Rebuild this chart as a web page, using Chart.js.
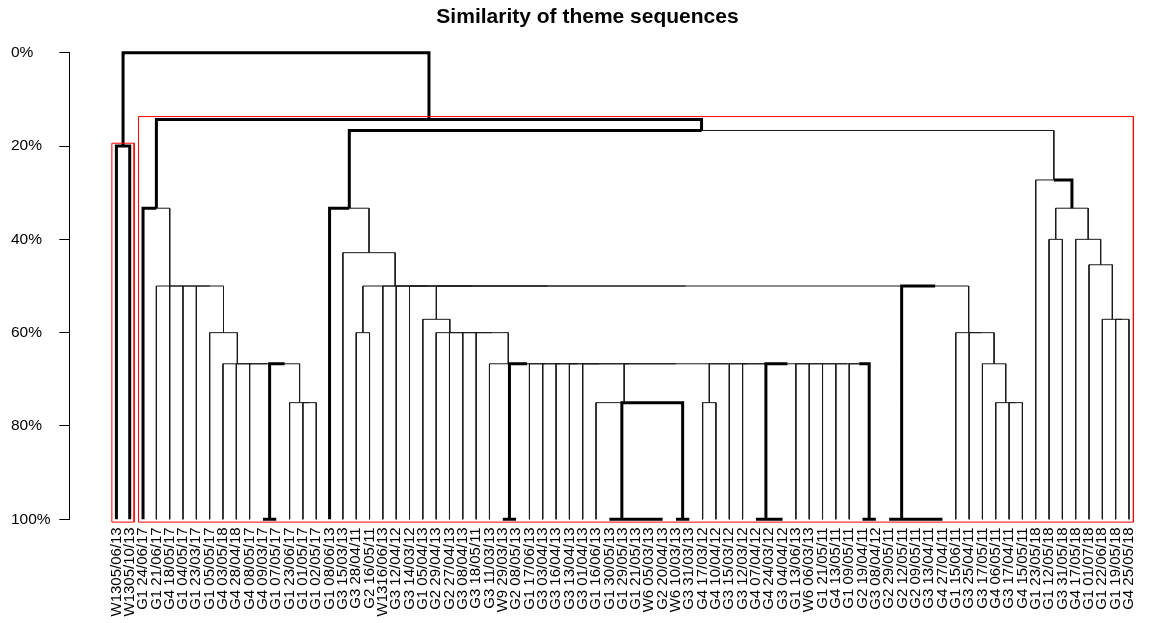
<!DOCTYPE html>
<html>
<head>
<meta charset="utf-8">
<title>Similarity of theme sequences</title>
<script src="https://cdn.jsdelivr.net/npm/chart.js@4.4.1/dist/chart.umd.min.js"></script>
<style>
  html, body { margin: 0; padding: 0; background: #ffffff; }
</style>
</head>
<body>
<canvas id="dendro" width="1155" height="623"></canvas>
<script>
// ── Leaves, left to right ─────────────────────────────────────
const leafLabels = [
  'W1305/06/13', 'W1305/10/13', 'G1 24/06/17', 'G1 21/06/17', 'G4 18/05/17',
  'G1 04/05/17', 'G1 23/03/17', 'G1 05/05/17', 'G4 03/05/18', 'G4 28/04/18',
  'G4 08/05/17', 'G4 09/03/17', 'G1 07/05/17', 'G1 23/06/17', 'G1 01/05/17',
  'G1 02/05/17', 'G1 08/06/13', 'G3 15/03/13', 'G3 28/04/11', 'G2 16/05/11',
  'W1316/06/13', 'G3 12/04/12', 'G3 14/03/12', 'G1 05/04/13', 'G2 29/04/13',
  'G2 27/04/13', 'G3 08/04/13', 'G3 18/05/11', 'G3 11/03/13', 'W9 29/03/13',
  'G2 08/05/13', 'G1 17/06/13', 'G3 03/04/13', 'G3 16/04/13', 'G3 13/04/13',
  'G3 01/04/13', 'G1 16/06/13', 'G1 30/05/13', 'G1 29/05/13', 'G1 21/05/13',
  'W6 05/03/13', 'G2 20/04/13', 'W6 10/03/13', 'G3 31/03/13', 'G4 17/03/12',
  'G4 10/04/12', 'G3 15/03/12', 'G3 12/03/12', 'G4 07/04/12', 'G4 24/03/12',
  'G3 04/04/12', 'G1 13/06/13', 'W6 06/03/13', 'G1 21/05/11', 'G4 13/05/11',
  'G1 09/05/11', 'G2 19/04/11', 'G3 08/04/12', 'G2 29/05/11', 'G2 12/05/11',
  'G2 09/05/11', 'G3 13/04/11', 'G4 27/04/11', 'G1 15/06/11', 'G3 25/04/11',
  'G3 17/05/11', 'G4 06/05/11', 'G3 17/04/11', 'G4 15/05/11', 'G1 23/05/18',
  'G1 12/05/18', 'G3 31/05/18', 'G4 17/05/18', 'G1 01/07/18', 'G1 22/06/18',
  'G1 19/05/18', 'G4 25/05/18'
];

// ── Merges, hclust style: -n = leaf n, +k = merge k (1-based) ─
const mergePairs = [
  [-1, -2],   [-12, -13], [-15, -16], [-14, 3],   [2, 4],
  [-11, 5],   [-10, 6],   [-9, 7],    [-8, 8],    [-7, 9],
  [-6, 10],   [-5, 11],   [-4, 12],   [-3, 13],   [-19, -20],
  [-30, -31], [-41, -42], [-40, 17],  [-39, 18],  [-38, 19],
  [-43, -44], [20, 21],   [-37, 22],  [-45, -46], [-50, -51],
  [-49, 25],  [-57, -58], [-56, 27],  [-55, 28],  [-54, 29],
  [-53, 30],  [-52, 31],  [26, 32],   [-48, 33],  [-47, 34],
  [24, 35],   [23, 36],   [-36, 37],  [-35, 38],  [-34, 39],
  [-33, 40],  [-32, 41],  [16, 42],   [-29, 43],  [-28, 44],
  [-27, 45],  [-26, 46],  [-25, 47],  [-24, 48],  [-62, -63],
  [-61, 50],  [-60, 51],  [-59, 52],  [-68, -69], [-67, 54],
  [-66, 55],  [-65, 56],  [-64, 57],  [53, 58],   [49, 59],
  [-23, 60],  [-22, 61],  [-21, 62],  [15, 63],   [-18, 64],
  [-17, 65],  [-71, -72], [-76, -77], [-75, 68],  [-74, 69],
  [-73, 70],  [67, 71],   [-70, 72],  [66, 73],   [14, 74],
  [1, 75]
];

// similarity (%) at which each merge happens
const mergeSimilarity = [
  20,    100,   75,    75,    66.67,
  66.67, 66.67, 66.67, 60,    50,
  50,    50,    50,    33.33, 60,
  100,   100,   100,   100,   100,
  100,   75,    75,    75,    100,
  100,   100,   66.67, 66.67, 66.67,
  66.67, 66.67, 66.67, 66.67, 66.67,
  66.67, 66.67, 66.67, 66.67, 66.67,
  66.67, 66.67, 66.67, 66.67, 60,
  60,    60,    60,    57.14, 100,
  100,   100,   100,   75,    75,
  66.67, 60,    60,    50,    50,
  50,    50,    50,    50,    42.86,
  33.33, 40,    57.14, 57.14, 45.45,
  40,    33.33, 27.27, 16.67, 14.29,
  0
];

// branches drawn heavy (id of the child the branch leads to)
const heavyBranches = [
  1, -1, -2, 75, 14, 74, -3, 66, -17, 72,
  2, -12, -13, 16, -30, -31, 22, 20, 21, -38, 19, -39, 18, -40, 17,
  -41, -42, -43, -44, 26, -49, 25, -50, -51, 27, -57, -58,
  53, -59, 52, -60, 51, -61, 50, -62, -63
];

// merges that get a red box (the two clusters)
const boxedClusters = [1, 75];

const similarityTicks = [0, 20, 40, 60, 80, 100];

// ── Layout: leaf n sits at x = n, merge at the middle of its two children
const nodeX = [];
function xOf(id)   { return id < 0 ? -id : nodeX[id]; }
function simOf(id) { return id < 0 ? 100 : mergeSimilarity[id - 1]; }
function leafSpan(id) {
  if (id < 0) return [-id, -id];
  const a = leafSpan(mergePairs[id - 1][0]);
  const b = leafSpan(mergePairs[id - 1][1]);
  return [Math.min(a[0], b[0]), Math.max(a[1], b[1])];
}

mergePairs.forEach(function (pair, i) {
  nodeX[i + 1] = (xOf(pair[0]) + xOf(pair[1])) / 2;
});

// every branch = across at the parent's level, then down to the child
const thinPts = [];
const heavyPts = [];
mergePairs.forEach(function (pair, i) {
  const px = nodeX[i + 1];
  const h  = mergeSimilarity[i];
  pair.forEach(function (child) {
    const target = heavyBranches.includes(child) ? heavyPts : thinPts;
    const cx = xOf(child);
    target.push({ x: px, y: h }, { x: cx, y: h }, { x: cx, y: simOf(child) }, { x: cx, y: null });
  });
});

// red boxes round the clusters
const boxPts = [];
boxedClusters.forEach(function (id) {
  const span = leafSpan(id);
  const l = span[0] - 0.34, r = span[1] + 0.33;
  const t = simOf(id) - 0.6, b = 100.6;
  boxPts.push({ x: l, y: b }, { x: l, y: t }, { x: r, y: t }, { x: r, y: b }, { x: l, y: b }, { x: l, y: null });
});

// ── Chart ─────────────────────────────────────────────────────
const FONT = 'Liberation Sans, Arial, Helvetica, sans-serif';
const FIRST_LEAF_PX = 116.7;   // where leaf 1 sits
const LEAF_STEP_PX  = 13.41;   // gap between two leaves

function lineSet(data, color, width, order) {
  return {
    data: data,
    borderColor: color,
    borderWidth: width,
    borderJoinStyle: 'miter',
    pointRadius: 0,
    pointHoverRadius: 0,
    fill: false,
    spanGaps: false,
    tension: 0,
    clip: false,
    order: order
  };
}

const chart = new Chart(document.getElementById('dendro'), {
  type: 'line',
  data: {
    datasets: [
      lineSet(boxPts, '#ff0000', 1, 0),
      lineSet(heavyPts, '#000000', 3, 1),
      lineSet(thinPts, '#1a1a1a', 1, 2)
    ]
  },
  options: {
    responsive: false,
    animation: false,
    events: [],
    layout: { padding: { left: 11, right: -9, top: 0, bottom: 0 } },
    plugins: {
      legend: { display: false },
      tooltip: { enabled: false },
      title: {
        display: true,
        text: 'Similarity of theme sequences',
        color: '#000',
        font: { family: FONT, size: 21, weight: 'bold' },
        padding: { top: 5, bottom: 22.5 }
      }
    },
    scales: {
      x: {
        type: 'linear',
        min: -2.53,
        max: 78.43,
        afterBuildTicks: function (scale) {
          scale.ticks = leafLabels.map(function (_, i) { return { value: i + 1 }; });
        },
        afterFit: function (scale) { scale.height = 103.7; },
        grid: { display: false, drawTicks: false },
        border: { display: false },
        ticks: {
          autoSkip: false,
          minRotation: 90,
          maxRotation: 90,
          padding: 8,
          color: '#000',
          font: { family: FONT, size: 15 },
          callback: function (v) { return leafLabels[v - 1] || ''; }
        }
      },
      y: {
        type: 'linear',
        reverse: true,
        min: 0,
        max: 100,
        afterBuildTicks: function (scale) {
          scale.ticks = similarityTicks.map(function (v) { return { value: v }; });
        },
        afterFit: function (scale) { scale.width = 58.3; },
        grid: { drawOnChartArea: false, drawTicks: true, tickLength: 10, color: '#000', lineWidth: 1 },
        border: { display: true, color: '#000', width: 1 },
        ticks: {
          crossAlign: 'far',
          padding: 0,
          color: '#000',
          font: { family: FONT, size: 15.5 },
          callback: function (v) { return v + '%'; }
        }
      }
    }
  }
});

// ── Fit the leaf range to the real plot area, then redraw ─────
const area = chart.chartArea;
const xMin = 1 - (FIRST_LEAF_PX - area.left) / LEAF_STEP_PX;
chart.options.scales.x.min = xMin;
chart.options.scales.x.max = xMin + (area.right - area.left) / LEAF_STEP_PX;
chart.update();
</script>
</body>
</html>
